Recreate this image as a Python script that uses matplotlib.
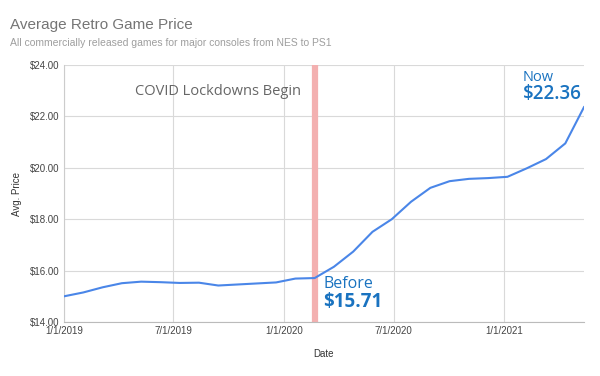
import matplotlib
matplotlib.use("Agg")
import matplotlib.pyplot as plt
import pandas as pd

dates = ["2019-01-01", "2019-02-02", "2019-03-06", "2019-04-07", "2019-05-09", "2019-06-10",
         "2019-07-12", "2019-08-13", "2019-09-14", "2019-10-16", "2019-11-17", "2019-12-19",
         "2020-01-20", "2020-02-21", "2020-03-24", "2020-04-25", "2020-05-27", "2020-06-28",
         "2020-07-30", "2020-08-31", "2020-10-02", "2020-11-03", "2020-12-05", "2021-01-06",
         "2021-02-07", "2021-03-11", "2021-04-12", "2021-05-13"]
prices = [15.00, 15.15, 15.35, 15.51, 15.57, 15.55,
          15.52, 15.53, 15.42, 15.46, 15.50, 15.54,
          15.69, 15.71, 16.15, 16.74, 17.51, 18.00,
          18.68, 19.22, 19.48, 19.57, 19.60, 19.65,
          19.98, 20.34, 20.95, 22.36]
y_ticks = [14, 16, 18, 20, 22, 24]
x_ticks = ["2019-01-01", "2019-07-01", "2020-01-01", "2020-07-01", "2021-01-01"]
x_tick_labels = ["1/1/2019", "7/1/2019", "1/1/2020", "7/1/2020", "1/1/2021"]
covid_date = "2020-02-22"
before_value = 15.71
now_value = 22.36

d = pd.to_datetime(dates)
fig = plt.figure(figsize=(6, 3.76), dpi=100)
ax = fig.add_axes([0.1067, 0.1436, 0.8666, 0.6835])

ax.plot(d, prices, color="#4a86e8", lw=1.5, zorder=3)
ax.axvline(pd.Timestamp(covid_date), color="#f3b0b0", lw=4.5, zorder=2)

ax.set_xlim(d[0], d[-1])
ax.set_ylim(14, 24)
ax.set_yticks(y_ticks)
ax.set_yticklabels([f"${v:.2f}" for v in y_ticks])
ax.set_xticks(pd.to_datetime(x_ticks))
ax.set_xticklabels(x_tick_labels)
ax.tick_params(length=0, labelsize=7, colors="#444444", pad=3)
ax.grid(True, color="#d9d9d9", lw=0.8)
ax.set_axisbelow(True)
for s in ["top", "right"]:
    ax.spines[s].set_visible(False)
ax.spines["left"].set_color("#cccccc")
ax.spines["bottom"].set_color("#bbbbbb")
for lab in ax.get_xticklabels() + ax.get_yticklabels():
    lab.set_family("Liberation Sans")

ax.set_xlabel("Date", fontsize=7, color="#333333", family="Liberation Sans")
ax.set_ylabel("Avg. Price", fontsize=7, color="#333333", family="Liberation Sans")
ax.xaxis.set_label_coords(0.5, -0.1226)
ax.xaxis.label.set_va("center")
ax.yaxis.set_label_coords(-0.09, 0.5)
ax.yaxis.label.set_va("center")

fig.text(10/600, 1 - 29/376, "Average Retro Game Price", fontsize=11, color="#757575",
         family="Liberation Sans", va="baseline", ha="left")
fig.text(10/600, 1 - 46.5/376, "All commercially released games for major consoles from NES to PS1",
         fontsize=7.5, color="#9e9e9e", family="Liberation Sans", va="baseline", ha="left")

ax.text(pd.Timestamp("2019-04-28"), 22.95, "COVID Lockdowns Begin", fontsize=10.5,
        color="#666666", family="Open Sans", va="center", ha="left")
ax.text(pd.Timestamp("2020-03-06"), 15.34, "Before", fontsize=11.5, color="#1a73c0",
        family="Open Sans", va="baseline", ha="left")
ax.text(pd.Timestamp("2020-03-06"), 14.60, f"${before_value:.2f}", fontsize=13.5, color="#1a73c0",
        family="Open Sans", weight="bold", va="baseline", ha="left", clip_on=False)
ax.text(pd.Timestamp("2021-01-31"), 23.37, "Now", fontsize=10.5, color="#1a73c0",
        family="Open Sans", va="baseline", ha="left", clip_on=False)
ax.text(pd.Timestamp("2021-01-31"), 22.67, f"${now_value:.2f}", fontsize=13.5, color="#1a73c0",
        family="Open Sans", weight="semibold", va="baseline", ha="left", clip_on=False)

fig.savefig("out.png", dpi=100)
